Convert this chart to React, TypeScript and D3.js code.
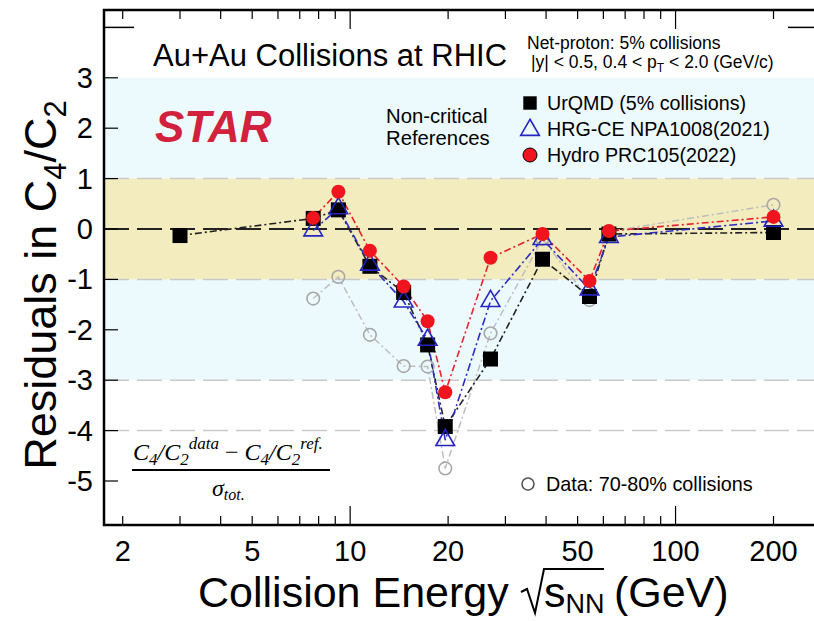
import * as d3 from "d3";

// collision energies (GeV)
const energies = [3.0, 7.7, 9.2, 11.5, 14.6, 17.3, 19.6, 27, 39, 54.4, 62.4, 200];
const modelEnergies = [7.7, 9.2, 11.5, 14.6, 17.3, 19.6, 27, 39, 54.4, 62.4, 200];

// residuals
const urqmd = [-0.13, 0.21, 0.38, -0.74, -1.26, -2.3, -3.92, -2.58, -0.6, -1.34, -0.1, -0.07];
const hrgCE = [-0.03, 0.41, -0.71, -1.44, -2.2, -4.19, -1.43, -0.2, -1.2, -0.16, 0.16];
const hydro = [0.22, 0.74, -0.43, -1.14, -1.83, -3.24, -0.57, -0.1, -1.03, -0.04, 0.24];
const peripheral = [-1.38, -0.95, -2.1, -2.72, -2.73, -4.75, -2.07, -0.2, -1.41, -0.05, 0.48];

const xTickLabels = [2, 5, 10, 20, 50, 100, 200];
const yTickLabels = [3, 2, 1, 0, -1, -2, -3, -4, -5];

const W = 814;
const H = 621;
const margin = { left: 104, top: 10, right: 818, bottom: 525 };

const SANS = "'Liberation Sans', Arial, Helvetica, sans-serif";
const SERIF = "'Liberation Serif', 'Times New Roman', serif";

export default function App() {
  const x = d3.scaleLog().domain([1.752, 274]).range([margin.left, margin.right]);
  const y = d3.scaleLinear().domain([-5.873, 4.345]).range([margin.bottom, margin.top]);

  // minor + major ticks on the log axis
  const minor: number[] = [];
  for (let d = 1; d <= 100; d *= 10) {
    for (let k = 1; k <= 9; k++) {
      const v = k * d;
      if (v >= 1.752 && v <= 274) minor.push(v);
    }
  }

  const line = (xs: number[], ys: number[]) =>
    d3.line<number>().x((_, i) => x(xs[i])).y((v) => y(v))(ys) || "";

  const square = d3.symbol(d3.symbolSquare, 225)() || "";
  const legSquare = d3.symbol(d3.symbolSquare, 180)() || "";
  const triangle = d3.symbol(d3.symbolTriangle, 150)() || "";

  const pw = margin.right - margin.left;

  return (
    <svg
      width={W}
      height={H}
      style={{ position: "absolute", left: 0, top: 0, background: "#fff" }}
    >
      {/* bands */}
      <rect x={margin.left} y={y(3)} width={pw} height={y(-3) - y(3)} fill="#edfafd" />
      <rect x={margin.left} y={y(1)} width={pw} height={y(-1) - y(1)} fill="#f3ecbe" />
      {[1, -1, -3, -4].map((v) => (
        <line
          key={v}
          x1={margin.left}
          x2={margin.right}
          y1={y(v)}
          y2={y(v)}
          stroke="#c9c9c9"
          strokeWidth={1.5}
          strokeDasharray="25,8"
        />
      ))}
      <line
        x1={margin.left}
        x2={margin.right}
        y1={y(0)}
        y2={y(0)}
        stroke="#222"
        strokeWidth={1.8}
        strokeDasharray="25,8"
      />

      {/* connecting lines */}
      <path d={line(modelEnergies, peripheral)} fill="none" stroke="#bdbdbd" strokeWidth={1.5} strokeDasharray="7,3,2,3" />
      <path d={line(energies, urqmd)} fill="none" stroke="#222" strokeWidth={1.6} strokeDasharray="7,3,2,3" />
      <path d={line(modelEnergies, hrgCE)} fill="none" stroke="#2b2bc8" strokeWidth={1.6} strokeDasharray="8,3,2,3" />
      <path d={line(modelEnergies, hydro)} fill="none" stroke="#e8202c" strokeWidth={1.6} strokeDasharray="2,3,7,3" />

      {/* markers */}
      {modelEnergies.map((e, i) => (
        <circle key={"p" + i} cx={x(e)} cy={y(peripheral[i])} r={6.3} fill="none" stroke="#a8a8a8" strokeWidth={1.6} />
      ))}
      {energies.map((e, i) => (
        <path key={"u" + i} d={square} transform={`translate(${x(e)},${y(urqmd[i])})`} fill="#000" />
      ))}
      {modelEnergies.map((e, i) => (
        <path key={"h" + i} d={triangle} transform={`translate(${x(e)},${y(hrgCE[i])})`} fill="none" stroke="#2424c0" strokeWidth={1.6} />
      ))}
      {modelEnergies.map((e, i) => (
        <circle key={"r" + i} cx={x(e)} cy={y(hydro[i])} r={7} fill="#f0141e" />
      ))}

      {/* frame */}
      <rect x={margin.left} y={margin.top} width={pw} height={margin.bottom - margin.top} fill="none" stroke="#000" strokeWidth={2.5} />

      {/* x ticks */}
      {minor.map((v) => {
        const major = v === 10 || v === 100;
        const len = major ? 19 : 9;
        return (
          <g key={"xt" + v}>
            <line x1={x(v)} x2={x(v)} y1={margin.bottom} y2={margin.bottom - len} stroke="#000" strokeWidth={1.2} />
            <line x1={x(v)} x2={x(v)} y1={margin.top} y2={margin.top + len} stroke="#000" strokeWidth={1.2} />
          </g>
        );
      })}
      {xTickLabels.map((v) => (
        <text key={"xl" + v} x={x(v)} y={561} textAnchor="middle" fontFamily={SANS} fontSize={29}>
          {v}
        </text>
      ))}

      {/* y ticks */}
      {yTickLabels.map((v) => (
        <g key={"yt" + v}>
          <line x1={margin.left} x2={margin.left + 14} y1={y(v)} y2={y(v)} stroke="#000" strokeWidth={1.2} />
          <text x={93} y={y(v) + 10} textAnchor="end" fontFamily={SANS} fontSize={29}>
            {v}
          </text>
        </g>
      ))}
      <line x1={margin.left} x2={margin.left + 30} y1={y(4)} y2={y(4)} stroke="#000" strokeWidth={1.5} />
      <line x1={margin.right} x2={margin.right - 30} y1={y(4)} y2={y(4)} stroke="#000" strokeWidth={1.5} />

      {/* axis titles */}
      <text transform="translate(56,285) rotate(-90)" textAnchor="middle" fontFamily={SANS} fontSize={45}>
        Residuals in C<tspan fontSize={31} dy={10}>4</tspan>
        <tspan dy={-10}>/C</tspan>
        <tspan fontSize={31} dy={10}>2</tspan>
      </text>
      <text x={198} y={607} fontFamily={SANS} fontSize={43}>
        Collision Energy
      </text>
      <path d="M521,592 L527,589 L535,613 L544,569 L604,569" fill="none" stroke="#000" strokeWidth={2} />
      <text x={544} y={607} fontFamily={SANS} fontSize={43}>
        s<tspan fontSize={27} dy={6}>NN</tspan>
      </text>
      <text x={614} y={607} fontFamily={SANS} fontSize={43}>
        (GeV)
      </text>

      {/* header */}
      <text x={153} y={66} fontFamily={SANS} fontSize={31}>
        Au+Au Collisions at RHIC
      </text>
      <text x={527} y={49} fontFamily={SANS} fontSize={17.5}>
        Net-proton: 5% collisions
      </text>
      <text x={531} y={68} fontFamily={SANS} fontSize={17.5}>
        |y| &lt; 0.5, 0.4 &lt; p<tspan fontSize={12} dy={4}>T</tspan>
        <tspan dy={-4}> &lt; 2.0 (GeV/c)</tspan>
      </text>

      <text x={155} y={142} fontFamily={SANS} fontSize={44} fontWeight="bold" fontStyle="italic" fill="#d2213d">
        STAR
      </text>

      <text x={386} y={123} fontFamily={SANS} fontSize={20.3}>
        Non-critical
      </text>
      <text x={386} y={145} fontFamily={SANS} fontSize={20.3}>
        References
      </text>

      {/* legend */}
      <path d={legSquare} transform="translate(530,103)" fill="#000" />
      <text x={547} y={110} fontFamily={SANS} fontSize={19.7}>
        UrQMD (5% collisions)
      </text>
      <path d={triangle} transform="translate(530,130)" fill="none" stroke="#2424c0" strokeWidth={1.6} />
      <text x={547} y={136} fontFamily={SANS} fontSize={19.7}>
        HRG-CE NPA1008(2021)
      </text>
      <circle cx={530} cy={155} r={7} fill="#f0141e" stroke="#000" strokeWidth={1} />
      <text x={547} y={162} fontFamily={SANS} fontSize={19.7}>
        Hydro PRC105(2022)
      </text>

      <circle cx={528} cy={484} r={6} fill="none" stroke="#555" strokeWidth={1.6} />
      <text x={546} y={491} fontFamily={SANS} fontSize={19.8}>
        Data: 70-80% collisions
      </text>

      {/* formula */}
      <text x={133} y={460} fontFamily={SERIF} fontStyle="italic" fontSize={24}>
        C<tspan fontSize={17} dy={5}>4</tspan>
        <tspan dy={-5}>/C</tspan>
        <tspan fontSize={17} dy={5}>2</tspan>
        <tspan fontSize={17} dy={-16}>data</tspan>
        <tspan dy={11} fontStyle="normal"> − </tspan>
        <tspan>C</tspan>
        <tspan fontSize={17} dy={5}>4</tspan>
        <tspan dy={-5}>/C</tspan>
        <tspan fontSize={17} dy={5}>2</tspan>
        <tspan fontSize={17} dy={-16}>ref.</tspan>
      </text>
      <line x1={132} x2={330} y1={470} y2={470} stroke="#000" strokeWidth={2} />
      <text x={212} y={496} fontFamily={SERIF} fontStyle="italic" fontSize={24}>
        σ<tspan fontSize={16} dy={4}>tot.</tspan>
      </text>
    </svg>
  );
}
